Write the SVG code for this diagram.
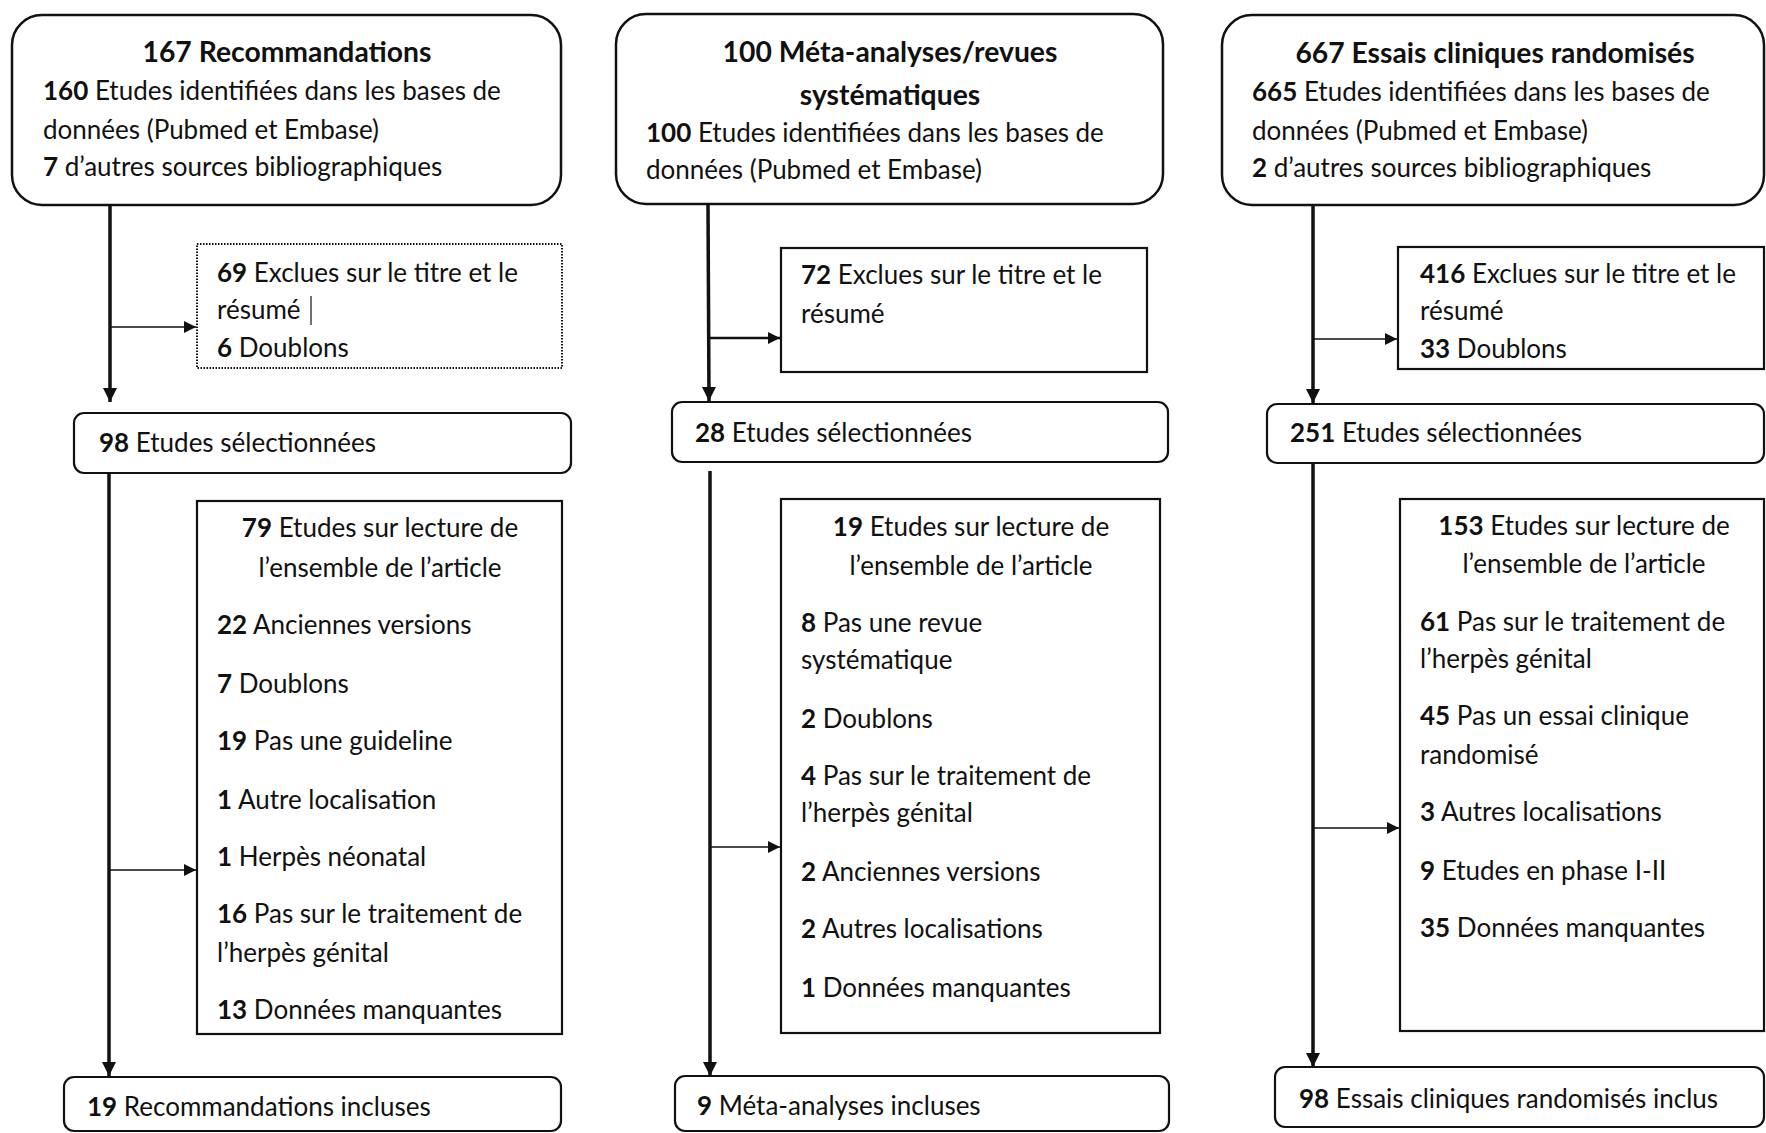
<svg xmlns="http://www.w3.org/2000/svg" width="1766" height="1133" viewBox="0 0 1766 1133">
<style>
text{font-family:Lato,"Open Sans","Liberation Sans",sans-serif;font-size:26px;fill:#111}
.b{font-weight:bold}
.t{font-weight:bold;font-size:28.3px;text-anchor:middle}
.m{text-anchor:middle}
.rb{fill:#fff;stroke:#111;stroke-width:2.5}
.sb{fill:#fff;stroke:#111;stroke-width:2.2}
.dot{fill:#fff;stroke:#111;stroke-width:2;stroke-dasharray:1.5 1.5}
.v{stroke:#111;stroke-width:3.5;fill:none}
.h{stroke:#111;stroke-width:1.6;fill:none}
.h2{stroke:#111;stroke-width:2.6;fill:none}
</style>
<defs>
<marker id="av" markerUnits="userSpaceOnUse" markerWidth="14" markerHeight="16" refX="14" refY="8" orient="auto"><path d="M0,1 L14,8 L0,15 Z" fill="#111"/></marker>
<marker id="ah" markerUnits="userSpaceOnUse" markerWidth="12" markerHeight="14" refX="12" refY="7" orient="auto"><path d="M0,1 L12,7 L0,13 Z" fill="#111"/></marker>
</defs>
<rect width="1766" height="1133" fill="#fff"/>

<g id="connectors">
<line class="v" x1="110" y1="205" x2="110" y2="402" marker-end="url(#av)"/>
<line class="h" x1="110" y1="327" x2="196" y2="327" marker-end="url(#ah)"/>
<line class="v" x1="109" y1="473" x2="109" y2="1076" marker-end="url(#av)"/>
<line class="h" x1="109" y1="870" x2="196" y2="870" marker-end="url(#ah)"/>

<line class="v" x1="708" y1="204" x2="709" y2="401" marker-end="url(#av)"/>
<line class="h2" x1="709" y1="338" x2="780" y2="338" marker-end="url(#ah)"/>
<line class="v" x1="710" y1="471" x2="710" y2="1076" marker-end="url(#av)"/>
<line class="h" x1="710" y1="847" x2="780" y2="847" marker-end="url(#ah)"/>

<line class="v" x1="1313" y1="205" x2="1313" y2="403" marker-end="url(#av)"/>
<line class="h" x1="1313" y1="339" x2="1397" y2="339" marker-end="url(#ah)"/>
<line class="v" x1="1313" y1="463" x2="1313" y2="1067" marker-end="url(#av)"/>
<line class="h" x1="1313" y1="828" x2="1399" y2="828" marker-end="url(#ah)"/>
</g>

<g id="n1-top">
<rect class="rb" x="12" y="15" width="549" height="190" rx="30"/>
<text class="t" x="287" y="62">167 Recommandations</text>
<text x="43" y="100"><tspan class="b">160</tspan> Etudes identifiées dans les bases de</text>
<text x="43" y="139">données (Pubmed et Embase)</text>
<text x="43" y="176"><tspan class="b">7</tspan> d’autres sources bibliographiques</text>
</g>
<g id="n1-excl">
<rect class="dot" x="197" y="244" width="365" height="124"/>
<text x="217" y="282"><tspan class="b">69</tspan> Exclues sur le titre et le</text>
<text x="217" y="319">résumé</text>
<line x1="311" y1="296" x2="311" y2="325" stroke="#111" stroke-width="1.2"/>
<text x="217" y="357"><tspan class="b">6</tspan> Doublons</text>
</g>
<g id="n1-sel">
<rect class="sb" x="74" y="413" width="497" height="60" rx="10"/>
<text x="99" y="452"><tspan class="b">98</tspan> Etudes sélectionnées</text>
</g>
<g id="n1-full">
<rect class="sb" x="197" y="501" width="365" height="533"/>
<text class="m" x="380" y="537"><tspan class="b">79</tspan> Etudes sur lecture de</text>
<text class="m" x="380" y="577">l’ensemble de l’article</text>
<text x="217" y="634"><tspan class="b">22</tspan> Anciennes versions</text>
<text x="217" y="693"><tspan class="b">7</tspan> Doublons</text>
<text x="217" y="750"><tspan class="b">19</tspan> Pas une guideline</text>
<text x="217" y="809"><tspan class="b">1</tspan> Autre localisation</text>
<text x="217" y="866"><tspan class="b">1</tspan> Herpès néonatal</text>
<text x="217" y="923"><tspan class="b">16</tspan> Pas sur le traitement de</text>
<text x="217" y="962">l’herpès génital</text>
<text x="217" y="1019"><tspan class="b">13</tspan> Données manquantes</text>
</g>
<g id="n1-incl">
<rect class="sb" x="64" y="1077" width="497" height="54" rx="10"/>
<text x="87" y="1116"><tspan class="b">19</tspan> Recommandations incluses</text>
</g>

<g id="n2-top">
<rect class="rb" x="616" y="14" width="547" height="190" rx="30"/>
<text class="t" x="890" y="62">100 Méta-analyses/revues</text>
<text class="t" x="890" y="105">systématiques</text>
<text x="646" y="142"><tspan class="b">100</tspan> Etudes identifiées dans les bases de</text>
<text x="646" y="179">données (Pubmed et Embase)</text>
</g>
<g id="n2-excl">
<rect class="sb" x="781" y="248" width="366" height="124"/>
<text x="801" y="284"><tspan class="b">72</tspan> Exclues sur le titre et le</text>
<text x="801" y="323">résumé</text>
</g>
<g id="n2-sel">
<rect class="sb" x="672" y="402" width="496" height="60" rx="10"/>
<text x="695" y="442"><tspan class="b">28</tspan> Etudes sélectionnées</text>
</g>
<g id="n2-full">
<rect class="sb" x="781" y="499" width="379" height="534"/>
<text class="m" x="971" y="536"><tspan class="b">19</tspan> Etudes sur lecture de</text>
<text class="m" x="971" y="575">l’ensemble de l’article</text>
<text x="801" y="632"><tspan class="b">8</tspan> Pas une revue</text>
<text x="801" y="669">systématique</text>
<text x="801" y="728"><tspan class="b">2</tspan> Doublons</text>
<text x="801" y="785"><tspan class="b">4</tspan> Pas sur le traitement de</text>
<text x="801" y="822">l’herpès génital</text>
<text x="801" y="881"><tspan class="b">2</tspan> Anciennes versions</text>
<text x="801" y="938"><tspan class="b">2</tspan> Autres localisations</text>
<text x="801" y="997"><tspan class="b">1</tspan> Données manquantes</text>
</g>
<g id="n2-incl">
<rect class="sb" x="675" y="1076" width="494" height="55" rx="10"/>
<text x="697" y="1115"><tspan class="b">9</tspan> Méta-analyses incluses</text>
</g>

<g id="n3-top">
<rect class="rb" x="1222" y="15" width="542" height="190" rx="30"/>
<text class="t" x="1495" y="63">667 Essais cliniques randomisés</text>
<text x="1252" y="101"><tspan class="b">665</tspan> Etudes identifiées dans les bases de</text>
<text x="1252" y="140">données (Pubmed et Embase)</text>
<text x="1252" y="177"><tspan class="b">2</tspan> d’autres sources bibliographiques</text>
</g>
<g id="n3-excl">
<rect class="sb" x="1398" y="247" width="366" height="122"/>
<text x="1420" y="283"><tspan class="b">416</tspan> Exclues sur le titre et le</text>
<text x="1420" y="320">résumé</text>
<text x="1420" y="358"><tspan class="b">33</tspan> Doublons</text>
</g>
<g id="n3-sel">
<rect class="sb" x="1267" y="404" width="497" height="59" rx="10"/>
<text x="1290" y="442"><tspan class="b">251</tspan> Etudes sélectionnées</text>
</g>
<g id="n3-full">
<rect class="sb" x="1400" y="499" width="364" height="532"/>
<text class="m" x="1584" y="535"><tspan class="b">153</tspan> Etudes sur lecture de</text>
<text class="m" x="1584" y="573">l’ensemble de l’article</text>
<text x="1420" y="631"><tspan class="b">61</tspan> Pas sur le traitement de</text>
<text x="1420" y="668">l’herpès génital</text>
<text x="1420" y="725"><tspan class="b">45</tspan> Pas un essai clinique</text>
<text x="1420" y="764">randomisé</text>
<text x="1420" y="821"><tspan class="b">3</tspan> Autres localisations</text>
<text x="1420" y="880"><tspan class="b">9</tspan> Etudes en phase I-II</text>
<text x="1420" y="937"><tspan class="b">35</tspan> Données manquantes</text>
</g>
<g id="n3-incl">
<rect class="sb" x="1275" y="1067" width="489" height="60" rx="10"/>
<text x="1299" y="1108"><tspan class="b">98</tspan> Essais cliniques randomisés inclus</text>
</g>
</svg>
